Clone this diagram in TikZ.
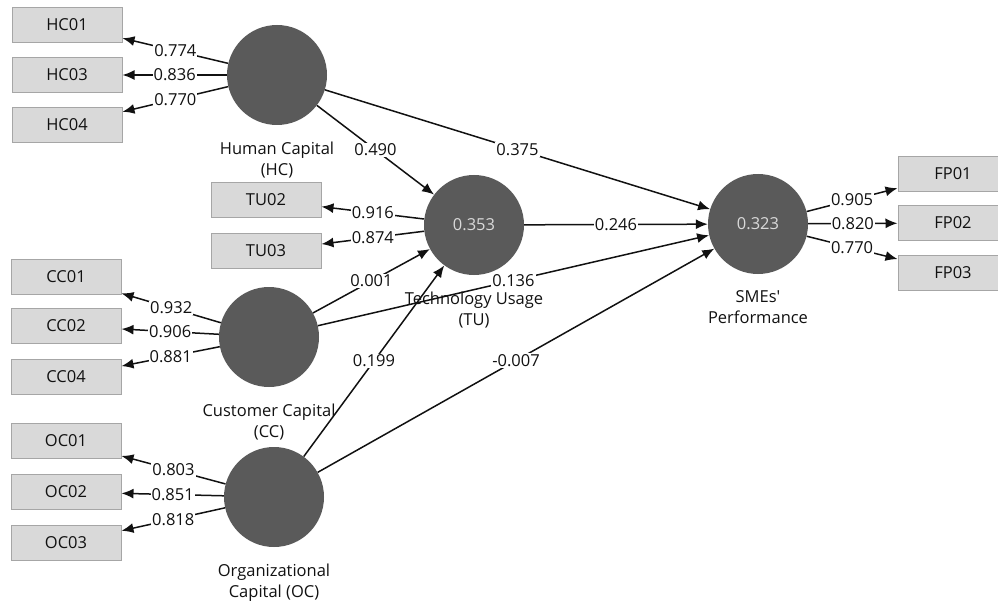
\documentclass[tikz,border=0pt]{standalone}
\usepackage{fontspec}
\setmainfont{Open Sans}
\usetikzlibrary{arrows.meta,positioning}
\definecolor{lvfill}{HTML}{5A5A5A}
\definecolor{mvfill}{HTML}{D9D9D9}
\definecolor{mvdraw}{HTML}{A6A6A6}
\definecolor{ink}{HTML}{111111}
\tikzset{
    latent/.style={
        circle, fill=lvfill,
        minimum size=100pt, inner sep=0pt,
        text=mvfill,
    },
    indicator/.style={
        rectangle, draw=mvdraw, fill=mvfill,
        line width=1pt,
        minimum width=110pt, minimum height=35pt,
        text=ink,
    },
    caption/.style={
        align=center, text=ink,
        font=\fontsize{16.5}{21}\selectfont,
    },
    line/.style={
        draw=ink, line width=1.5pt, -{Latex[length=12pt,width=10pt]},
    },
    weight/.style={
        midway, fill=white, inner sep=1pt, text=ink,
    },
}
\begin{document}
\begin{tikzpicture}[x=1pt,y=-1pt,font=\fontsize{16.5}{20}\selectfont]
                \useasboundingbox (0,0) rectangle (998,604);
                % constructs
                \node [latent] (hc) at (277,75) {};
                \node [latent] (tu) at (474,225) {0.353};
                \node [latent] (cc) at (269,337) {};
                \node [latent] (oc) at (274,497) {};
                \node [latent] (sp) at (758,224) {0.323};
                \node [caption, below=13pt of hc] (hclabel) {Human Capital\\(HC)};
                \node [caption, below=13pt of tu] (tulabel) {Technology Usage\\(TU)};
                \node [caption, below=13pt of cc] (cclabel) {Customer Capital\\(CC)};
                \node [caption, below=13pt of oc] (oclabel) {Organizational\\Capital (OC)};
                \node [caption, below=13pt of sp] (splabel) {SMEs\textquotesingle\\Performance};
                % indicators
                \node [indicator] (hc01) at (67,25) {HC01};
                \node [indicator, below=14pt of hc01] (hc03) {HC03};
                \node [indicator, below=14pt of hc03] (hc04) {HC04};
                \node [indicator] (tu02) at (266,200) {TU02};
                \node [indicator, below=15pt of tu02] (tu03) {TU03};
                \node [indicator] (cc01) at (66,277) {CC01};
                \node [indicator, below=13pt of cc01] (cc02) {CC02};
                \node [indicator, below=15pt of cc02] (cc04) {CC04};
                \node [indicator] (oc01) at (66,441) {OC01};
                \node [indicator, below=15pt of oc01] (oc02) {OC02};
                \node [indicator, below=15pt of oc02] (oc03) {OC03};
                \node [indicator] (fp01) at (953,174) {FP01};
                \node [indicator, below=13pt of fp01] (fp02) {FP02};
                \node [indicator, below=14pt of fp02] (fp03) {FP03};
                % outer loadings
                \draw[line] (hc) -- node[weight] {0.774} (hc01);
                \draw[line] (hc) -- node[weight] {0.836} (hc03);
                \draw[line] (hc) -- node[weight] {0.770} (hc04);
                \draw[line] (tu) -- node[weight] {0.916} (tu02);
                \draw[line] (tu) -- node[weight] {0.874} (tu03);
                \draw[line] (cc) -- node[weight] {0.932} (cc01);
                \draw[line] (cc) -- node[weight] {0.906} (cc02);
                \draw[line] (cc) -- node[weight] {0.881} (cc04);
                \draw[line] (oc) -- node[weight] {0.803} (oc01);
                \draw[line] (oc) -- node[weight] {0.851} (oc02);
                \draw[line] (oc) -- node[weight] {0.818} (oc03);
                \draw[line] (sp) -- node[weight] {0.905} (fp01);
                \draw[line] (sp) -- node[weight] {0.820} (fp02);
                \draw[line] (sp) -- node[weight] {0.770} (fp03);
                % path coefficients
                \draw[line] (hc) -- node[weight] {0.490} (tu);
                \draw[line] (hc) -- node[weight] {0.375} (sp);
                \draw[line] (tu) -- node[weight] {0.246} (sp);
                \draw[line] (cc) -- node[weight] {0.001} (tu);
                \draw[line] (cc) -- node[weight] {0.136} (sp);
                \draw[line] (oc) -- node[weight] {0.199} (tu);
                \draw[line] (oc) -- node[weight] {-0.007} (sp);
            \end{tikzpicture}
\end{document}
